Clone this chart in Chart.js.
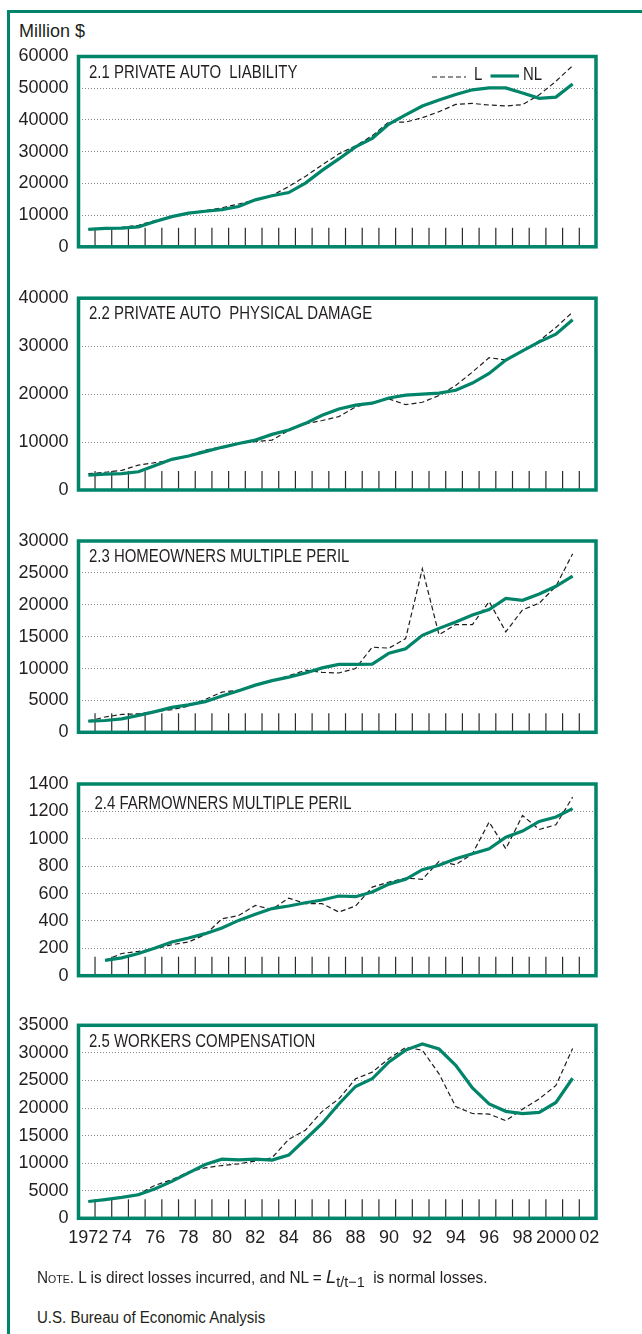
<!DOCTYPE html>
<html>
<head>
<meta charset="utf-8">
<script src="https://cdn.jsdelivr.net/npm/chart.js@4.4.1/dist/chart.umd.min.js"></script>
<style>
  body { margin: 0; background: #fff; }
  #page { position: relative; width: 642px; height: 1334px; overflow: hidden; font-family: "Liberation Sans", Arial, sans-serif; color: #231f20; }
  #frame { position: absolute; left: 7px; top: 10px; width: 800px; height: 1500px; border-top: 3.3px solid #00856a; border-left: 3.3px solid #00856a; }
  .txt { position: absolute; white-space: nowrap; transform-origin: 0 50%; }
  canvas { position: absolute; left: 0; }
</style>
</head>
<body>
<div id="page">
  <div id="frame"></div>
  <div class="txt" style="left:19px; top:22px; font-size:18px; line-height:18px;">Million $</div>
  <canvas id="c1"></canvas>
  <canvas id="c2"></canvas>
  <canvas id="c3"></canvas>
  <canvas id="c4"></canvas>
  <canvas id="c5"></canvas>
  <div class="txt" style="left:37px; top:1269px; font-size:16px; line-height:16px; transform:scaleX(0.96);"><span style="font-variant:small-caps">Note</span>. L is direct losses incurred, and NL = <i style="font-size:19px">L</i><span style="position:relative; top:4px; font-size:15px;">t/t−1</span>&nbsp;&nbsp;is normal losses.</div>
  <div class="txt" style="left:37px; top:1310px; font-size:16px; line-height:16px; transform:scaleX(0.94);">U.S. Bureau of Economic Analysis</div>
</div>

<script>
var years = [1972, 1973, 1974, 1975, 1976, 1977, 1978, 1979, 1980, 1981,
             1982, 1983, 1984, 1985, 1986, 1987, 1988, 1989, 1990, 1991,
             1992, 1993, 1994, 1995, 1996, 1997, 1998, 1999, 2000, 2001];
var xTickYears = [1972, 1974, 1976, 1978, 1980, 1982, 1984, 1986, 1988, 1990, 1992, 1994, 1996, 1998, 2000, 2002];
var xTickLabels = ['1972', '74', '76', '78', '80', '82', '84', '86', '88', '90', '92', '94', '96', '98', '2000', '02'];

var titles = ['2.1 PRIVATE AUTO  LIABILITY', '2.2 PRIVATE AUTO  PHYSICAL DAMAGE',
              '2.3 HOMEOWNERS MULTIPLE PERIL', '2.4 FARMOWNERS MULTIPLE PERIL', '2.5 WORKERS COMPENSATION'];
var yMax = [60000, 40000, 30000, 1400, 35000];
var yStep = [10000, 10000, 5000, 200, 5000];

// L = direct losses incurred, NL = normal losses (million $)
var autoLiabNL = [5500, 5800, 5900, 6300, 8000, 9500, 10600, 11200, 11700, 12700,
                  14800, 16100, 17100, 20100, 24100, 27700, 31500, 34200, 38700, 41600,
                  44400, 46300, 48000, 49500, 50100, 50100, 48500, 46800, 47200, 51300];
var autoLiabL = [5500, 5800, 6100, 6800, 8300, 9500, 10600, 11400, 12300, 13500,
                 14800, 16200, 19000, 22200, 25800, 29300, 31800, 35000, 39400, 39300,
                 40700, 42600, 44900, 45200, 44700, 44400, 44800, 47900, 52200, 57100];

var autoPhysNL = [3100, 3300, 3400, 3800, 5100, 6400, 7100, 8000, 8900, 9700,
                  10400, 11600, 12500, 13900, 15600, 16900, 17700, 18100, 19200, 19800,
                  20000, 20200, 20800, 22300, 24300, 27100, 29000, 30900, 32500, 35500];
var autoPhysL = [3400, 3700, 4100, 5200, 5700, 6200, 7200, 8300, 9000, 9700,
                 10100, 10400, 12400, 13800, 14500, 15300, 17300, 18300, 19000, 17800,
                 18300, 19700, 21800, 24600, 27600, 27100, 29000, 31100, 33900, 37100];

var homeNL = [1750, 1850, 2100, 2650, 3250, 3900, 4300, 4800, 5700, 6500,
              7400, 8100, 8650, 9300, 10100, 10650, 10650, 10700, 12400, 13100,
              15200, 16300, 17300, 18400, 19250, 21000, 20700, 21700, 22900, 24500];
var homeL = [1750, 2400, 2800, 2900, 3250, 3550, 4100, 5150, 6300, 6600,
             7400, 8100, 8850, 9750, 9400, 9300, 10000, 13350, 13200, 14700,
             25650, 15300, 16900, 16900, 20500, 15750, 19200, 20250, 22900, 28000];

var farmNL = [null, 112, 130, 162, 202, 246, 275, 307, 348, 404,
              448, 490, 509, 533, 553, 582, 577, 611, 669, 704,
              774, 806, 854, 891, 927, 1012, 1056, 1127, 1159, 1220];
var farmL = [null, 112, 162, 178, 197, 226, 246, 300, 415, 440,
             513, 484, 567, 526, 526, 465, 509, 647, 684, 713,
             704, 835, 810, 891, 1122, 927, 1170, 1068, 1102, 1304];

var workersNL = [3050, 3400, 3800, 4270, 5370, 6700, 8230, 9750, 10730, 10600,
                 10730, 10550, 11460, 14330, 17200, 20730, 23900, 25300, 28350, 30500,
                 31600, 30700, 27750, 23650, 20730, 19400, 19000, 19200, 21000, 25400];
var workersL = [3050, 3400, 3800, 4400, 6000, 7000, 8400, 9150, 9570, 9880,
                10370, 10980, 14330, 15980, 19400, 21650, 25300, 26500, 28960, 31000,
                30500, 26200, 20250, 19000, 18900, 17700, 19800, 21650, 24100, 30800];

var seriesNL = [autoLiabNL, autoPhysNL, homeNL, farmNL, workersNL];
var seriesL = [autoLiabL, autoPhysL, homeL, farmL, workersL];

// layout of the five boxes (top, bottom of the green frame, px on the page)
var boxes = [[56.5, 246.8], [298.2, 490], [541, 732.3], [784, 975.7], [1025.3, 1218.3]];
var titleShift = [[10.5, 18], [10.5, 17], [10.5, 17.3], [16, 21], [10.5, 18]];

var GREEN = '#00856a';
var INK = '#231f20';

var panelDecor = {
    id: 'panelDecor',
    beforeDatasetsDraw: function(chart) {
        var ctx = chart.ctx, a = chart.chartArea, xs = chart.scales.x;
        ctx.save();
        ctx.strokeStyle = '#2b2b2b';
        ctx.lineWidth = 1.2;
        years.forEach(function(y) {
            var px = xs.getPixelForValue(y + 0.4);
            ctx.beginPath();
            ctx.moveTo(px, a.bottom);
            ctx.lineTo(px, a.bottom - 19);
            ctx.stroke();
        });
        ctx.restore();
    },
    afterDraw: function(chart, args, opts) {
        var ctx = chart.ctx, a = chart.chartArea;
        ctx.save();
        ctx.strokeStyle = GREEN;
        ctx.lineWidth = 3.5;
        ctx.strokeRect(a.left, a.top, a.right - a.left, a.bottom - a.top);

        ctx.fillStyle = INK;
        ctx.font = '18px "Liberation Sans", Arial, sans-serif';
        ctx.textBaseline = 'middle';
        ctx.save();
        ctx.translate(a.left + opts.dx, a.top + opts.dy - 1);
        ctx.scale(0.83, 1);
        ctx.fillText(opts.title, 0, 0);
        ctx.restore();

        if (opts.legend) {
            var ly = a.top + 20.5;
            ctx.strokeStyle = INK;
            ctx.lineWidth = 1.2;
            ctx.setLineDash([5, 3]);
            ctx.beginPath();
            ctx.moveTo(432, ly);
            ctx.lineTo(466, ly);
            ctx.stroke();
            ctx.setLineDash([]);
            ctx.strokeStyle = GREEN;
            ctx.lineWidth = 3.2;
            ctx.beginPath();
            ctx.moveTo(490.5, ly - 1);
            ctx.lineTo(519, ly - 1);
            ctx.stroke();
            ctx.save();
            ctx.translate(474, ly - 2);
            ctx.scale(0.83, 1);
            ctx.fillText('L', 0, 0);
            ctx.restore();
            ctx.save();
            ctx.translate(523, ly - 2);
            ctx.scale(0.83, 1);
            ctx.fillText('NL', 0, 0);
            ctx.restore();
        }
        ctx.restore();
    }
};

function drawPanel(i) {
    var canvas = document.getElementById('c' + (i + 1));
    var boxTop = boxes[i][0], boxBottom = boxes[i][1];
    var last = (i === 4);
    var axisH = last ? 40 : 0;
    var top = Math.round(boxTop) - 26;
    var height = Math.round(boxBottom - boxTop) + 60 + axisH;
    canvas.style.top = top + 'px';
    canvas.width = 642;
    canvas.height = height;

    new Chart(canvas.getContext('2d'), {
        type: 'line',
        data: {
            labels: years,
            datasets: [{
                label: 'NL',
                data: seriesNL[i],
                borderColor: GREEN,
                borderWidth: 3.2,
                pointRadius: 0,
                tension: 0,
                fill: false
            }, {
                label: 'L',
                data: seriesL[i],
                borderColor: '#1e1e1e',
                borderWidth: 1.2,
                borderDash: [5, 3],
                pointRadius: 0,
                tension: 0,
                fill: false
            }]
        },
        options: {
            responsive: false,
            animation: false,
            layout: {
                padding: { left: 0, right: 46, top: boxTop - top, bottom: top + height - boxBottom - axisH }
            },
            scales: {
                x: {
                    type: 'linear',
                    min: 1971.41,
                    max: 2002.40,
                    grid: { display: false, drawTicks: false },
                    border: { display: false },
                    afterFit: function(s) { s.height = axisH; },
                    afterBuildTicks: function(s) {
                        s.ticks = xTickYears.map(function(v) { return { value: v }; });
                    },
                    ticks: {
                        display: last,
                        autoSkip: false,
                        maxRotation: 0,
                        padding: 9,
                        color: INK,
                        font: { family: '"Liberation Sans", Arial, sans-serif', size: 18 },
                        callback: function(v) { return xTickLabels[xTickYears.indexOf(v)]; }
                    }
                },
                y: {
                    min: 0,
                    max: yMax[i],
                    afterFit: function(s) { s.width = 78.5; },
                    grid: { color: '#8a8a8a', lineWidth: 1, drawTicks: false },
                    border: { display: false, dash: [1, 2] },
                    ticks: {
                        stepSize: yStep[i],
                        padding: 10,
                        color: INK,
                        font: { family: '"Liberation Sans", Arial, sans-serif', size: 18 },
                        callback: function(v) { return String(v); }
                    }
                }
            },
            plugins: {
                legend: { display: false },
                tooltip: { enabled: false },
                panelDecor: { title: titles[i], dx: titleShift[i][0], dy: titleShift[i][1], legend: i === 0 }
            }
        },
        plugins: [panelDecor]
    });
}

window.addEventListener('load', function() {
    for (var i = 0; i < 5; i++) {
        drawPanel(i);
    }
});
</script>
</body>
</html>
